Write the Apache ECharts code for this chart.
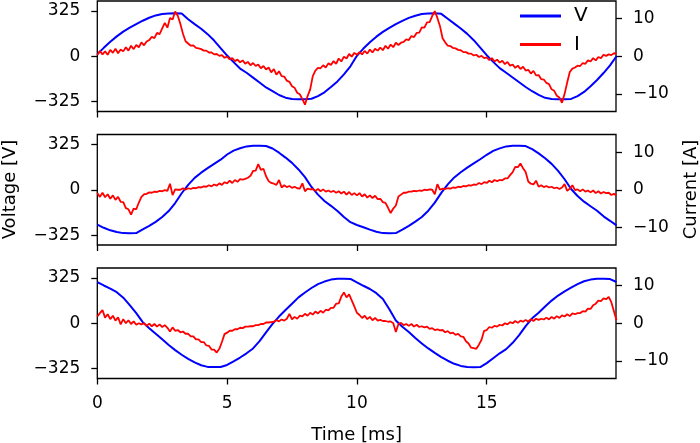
<!DOCTYPE html>
<html>
<head>
<meta charset="utf-8">
<script src="https://cdn.jsdelivr.net/npm/echarts@6/dist/echarts.min.js"></script>
<style>html,body{margin:0;padding:0;background:#fff}#c{width:700px;height:443px}</style>
</head>
<body>
<div id="c"></div>
<script>
// ---- data ----
const voltageStep = 0.25;   // ms between voltage samples
const currentStep = 0.1;    // ms between current samples
const xTicks = [0, 5, 10, 15];
const voltTicks = [-325, 0, 325];
const currTicks = [-10, 0, 10];

const voltage1 = [
  15, 60, 103, 142, 176, 204, 230, 254, 275, 292, 302, 306, 307, 305, 265, 230, 197, 158, 112, 58,
  5, -42, -88, -118, -153, -188, -223, -250, -277, -296, -305, -307, -307, -304, -285, -258, -220, -180, -130, -72,
  3, 55, 100, 140, 174, 203, 230, 253, 274, 290, 302, 306, 307, 303, 268, 233, 198, 160, 115, 62,
  8, -40, -85, -118, -152, -186, -220, -250, -276, -297, -306, -307, -307, -305, -285, -255, -215, -170, -120, -65,
  0
];
const voltage2 = [
  -250, -272, -290, -302, -310, -311, -310, -283, -258, -230, -195, -152, -95, -25, 35, 85, 122, 155, 185, 215,
  252, 280, 297, 310, 314, 314, 313, 295, 265, 230, 192, 145, 90, 20, -35, -80, -115, -152, -195, -232,
  -252, -268, -285, -300, -310, -311, -310, -285, -258, -228, -195, -150, -92, -22, 38, 88, 125, 158, 188, 218,
  250, 278, 296, 310, 314, 314, 312, 290, 260, 225, 185, 135, 75, 5, -45, -85, -118, -150, -190, -222,
  -255
];
const voltage3 = [
  294, 270, 248, 222, 183, 130, 72, 8, -35, -75, -115, -155, -192, -225, -255, -280, -300, -312, -313, -313,
  -298, -272, -245, -215, -180, -128, -65, -5, 48, 95, 140, 185, 220, 252, 280, 298, 312, 318, 318, 317,
  292, 268, 245, 215, 173, 100, 20, -25, -62, -105, -145, -180, -212, -242, -268, -290, -305, -313, -314, -313,
  -285, -250, -215, -185, -140, -85, -20, 35, 75, 120, 162, 198, 228, 255, 280, 300, 312, 318, 318, 316,
  295
];

const current1 = [
  0.3, 1.4, 0.5, 1.3, 0.4, 1.7, 0.9, 2.0, 0.8, 1.8,
  1.3, 2.4, 1.5, 2.8, 1.9, 3.0, 2.4, 3.7, 2.9, 3.9,
  4.3, 5.2, 4.8, 6.2, 5.9, 7.4, 8.9, 7.6, 10.2, 9.8,
  11.9, 10.8, 8.6, 6.0, 4.0, 3.4, 2.8, 2.9, 2.2, 2.1,
  1.9, 1.5, 1.5, 1.0, 1.0, 0.5, 0.6, 0.1, 0.3, -0.4,
  -0.1, -0.8, -0.5, -1.3, -0.9, -1.6, -1.1, -2.0, -1.5, -2.4,
  -1.8, -2.6, -2.2, -3.2, -2.6, -3.5, -3.0, -4.3, -3.4, -4.9,
  -4.0, -5.3, -5.4, -6.5, -6.8, -8.0, -8.4, -9.7, -10.1, -11.4,
  -12.9, -10.6, -8.8, -5.3, -3.8, -3.1, -3.2, -2.4, -3.0, -1.9,
  -2.3, -1.3, -2.0, -0.6, -1.4, -0.1, -0.6, 0.6, -0.1, 0.9,
  0.4, 1.1, 0.5, 1.4, 0.7, 1.8, 1.0, 2.0, 1.5, 2.3,
  1.6, 2.8, 2.0, 3.1, 2.4, 3.6, 3.0, 3.6, 3.8, 4.5,
  4.3, 5.4, 5.1, 6.2, 6.3, 7.7, 7.6, 9.0, 9.1, 10.7,
  12.0, 10.2, 8.0, 4.8, 3.7, 2.8, 2.7, 2.2, 2.1, 1.7,
  1.6, 1.1, 1.1, 0.7, 0.7, 0.2, 0.4, -0.2, 0.1, -0.5,
  -0.3, -1.0, -0.5, -1.4, -0.9, -1.7, -1.2, -2.1, -1.5, -2.5,
  -2.2, -3.1, -2.5, -3.4, -2.8, -3.8, -3.6, -4.6, -3.9, -5.1,
  -5.0, -6.1, -6.2, -7.1, -7.4, -8.8, -9.2, -10.5, -11.0, -12.4,
  -10.0, -7.0, -4.2, -3.3, -3.0, -2.5, -2.6, -1.8, -2.0, -1.1,
  -1.4, -0.5, -1.1, -0.2, -0.5, 0.4, 0.1, 0.5, 0.3, 0.8,
  0.7
];
const current2 = [
  -0.9, -1.9, -0.8, -2.0, -1.2, -2.4, -1.5, -2.7, -1.9, -3.2,
  -3.3, -4.9, -5.2, -6.6, -5.0, -5.2, -3.4, -1.9, -1.2, -1.1,
  -0.7, -0.8, -0.5, -0.6, -0.3, -0.4, -0.1, -0.3, 1.6, -1.4,
  0.1, 0.0, 0.0, 0.4, 0.0, 0.4, 0.2, 0.5, 0.4, 0.7,
  0.6, 0.9, 0.8, 1.2, 0.9, 1.4, 1.1, 1.7, 1.3, 2.0,
  1.7, 2.4, 1.8, 2.6, 2.1, 2.8, 2.7, 2.9, 3.2, 3.7,
  5.0, 5.1, 6.8, 5.3, 5.6, 3.6, 2.3, 1.8, 1.6, 1.3,
  2.6, 0.6, 1.2, 0.7, 1.0, 0.5, 0.8, 0.4, 0.3, 1.7,
  -0.4, 0.3, 0.1, 0.2, -0.3, 0.2, -0.4, 0.1, -0.5, -0.2,
  -0.6, -0.3, -0.8, -0.4, -1.0, -0.5, -1.3, -0.6, -1.4, -0.9,
  -1.5, -0.9, -1.8, -1.2, -2.1, -1.5, -2.2, -1.6, -2.5, -2.4,
  -3.3, -3.5, -4.8, -6.2, -5.0, -4.2, -1.8, -1.3, -0.8, -0.8,
  -0.5, -0.5, -0.3, -0.4, -0.2, -0.3, 0.0, -0.1, 0.1, 0.0,
  -1.2, 1.5, 0.0, 0.3, 0.2, 0.4, 0.3, 0.6, 0.5, 0.8,
  0.7, 1.0, 0.9, 1.2, 1.1, 1.4, 1.3, 1.8, 1.5, 2.0,
  1.8, 2.4, 2.0, 2.6, 2.3, 2.6, 2.5, 3.0, 3.0, 3.9,
  4.7, 6.1, 6.0, 7.0, 5.7, 4.7, 2.2, 1.6, 1.4, 2.4,
  0.8, 1.2, 0.7, 1.0, 0.6, 0.8, 0.4, 0.6, 0.2, 0.6,
  1.5, -0.3, 0.3, 1.2, -0.1, 0.1, -0.4, 0.1, -0.5, -0.2,
  -0.7, -0.2, -0.9, -0.4, -1.0, -0.6, -0.9, -0.8, -1.4, -1.1,
  -1.5
];
const current3 = [
  1.8, 2.7, 3.5, 1.5, 2.4, 1.1, 2.0, 0.7, 1.6, -0.3,
  1.1, 0.0, 0.8, -0.2, 0.5, -0.4, 0.0, -0.3, 0.0, -0.7,
  -0.1, -0.8, -0.2, -0.9, -0.3, -1.0, -0.5, -1.2, -2.2, -1.1,
  -2.0, -1.8, -2.4, -2.2, -2.8, -2.8, -3.5, -3.5, -4.3, -4.3,
  -5.0, -5.0, -5.9, -6.0, -7.0, -7.0, -7.8, -6.8, -5.0, -2.9,
  -2.5, -2.0, -2.0, -1.6, -1.6, -1.2, -1.3, -0.9, -0.9, -0.8,
  -0.8, -0.5, -0.5, -0.2, -0.2, 0.2, 0.2, 0.3, 0.4, 0.8,
  0.5, 1.0, 0.7, 1.2, 2.5, 1.0, 1.7, 1.2, 2.0, 1.8,
  2.5, 2.0, 2.8, 2.3, 3.1, 2.6, 3.3, 2.8, 3.6, 3.4,
  4.1, 4.1, 5.2, 5.3, 7.1, 8.2, 6.9, 7.7, 6.1, 4.5,
  2.8, 2.2, 1.4, 2.0, 1.1, 1.7, 0.8, 1.4, 0.7, 0.9,
  0.6, 0.6, 0.4, 0.5, 0.0, -2.3, -0.2, 0.1, -0.5, -0.2,
  -0.7, -0.2, -0.9, -0.4, -1.0, -0.8, -1.1, -0.9, -1.5, -1.3,
  -1.8, -1.6, -1.9, -1.8, -2.4, -2.1, -2.7, -2.5, -3.1, -2.8,
  -3.5, -3.6, -4.8, -5.4, -6.5, -6.6, -6.8, -5.7, -4.4, -2.0,
  -1.8, -1.0, -1.2, -0.7, -0.9, -0.4, -0.6, 0.0, -0.3, 0.3,
  0.0, 0.6, 0.1, 0.7, 0.4, 0.9, 0.4, 1.1, 0.6, 1.2,
  0.9, 1.2, 1.0, 1.5, 1.0, 1.7, 1.2, 1.9, 1.4, 2.1,
  1.8, 2.4, 1.9, 2.6, 2.4, 2.7, 2.7, 3.2, 3.1, 3.9,
  3.8, 4.8, 5.2, 6.0, 5.9, 6.6, 6.4, 7.0, 5.6, 3.2,
  0.8
];

// ---- chart ----
const FONT = 'DejaVu Sans';
const minus = v => (v < 0 ? '\u2212' + (-v) : String(v));
const toPairs = (arr, step) => arr.map((v, i) => [Math.round(i * step * 100) / 100, v]);
const voltages = [voltage1, voltage2, voltage3];
const currents = [current1, current2, current3];
const tops = [1, 134.5, 268];

const grid = tops.map(t => ({
  left: 97.3, width: 518.7, top: t, height: 110.5,
  containLabel: false, outerBoundsMode: 'none',
  show: true, borderColor: '#000', borderWidth: 1.3, backgroundColor: 'transparent'
}));

const tickStyle = { color: '#000', width: 1.3 };
const labelStyle = { fontSize: 17, color: '#000', fontFamily: FONT, margin: 17 };
const nameStyle = { fontSize: 18, color: '#000', fontFamily: FONT };

const xAxis = tops.map((t, i) => ({
  type: 'value', gridIndex: i, min: 0, max: 19.98,
  axisLine: { show: false, onZero: false },
  axisTick: { show: true, length: 6, customValues: xTicks, lineStyle: tickStyle },
  axisLabel: Object.assign({ show: i === 2, customValues: xTicks }, labelStyle),
  splitLine: { show: false },
  name: i === 2 ? 'Time [ms]' : '',
  nameLocation: 'middle', nameGap: 48,
  nameTextStyle: nameStyle
}));

const yAxis = [];
tops.forEach((t, i) => {
  yAxis.push({
    type: 'value', gridIndex: i, position: 'left', min: -395, max: 395,
    axisLine: { show: false, onZero: false },
    axisTick: { show: true, length: 6, customValues: voltTicks, lineStyle: tickStyle },
    axisLabel: Object.assign({ customValues: voltTicks, formatter: minus }, labelStyle),
    splitLine: { show: false }
  });
  yAxis.push({
    type: 'value', gridIndex: i, position: 'right', min: -14.7, max: 14.7,
    axisLine: { show: false, onZero: false },
    axisTick: { show: true, length: 6, customValues: currTicks, lineStyle: tickStyle },
    axisLabel: Object.assign({ customValues: currTicks, formatter: minus }, labelStyle),
    splitLine: { show: false }
  });
});

const series = [];
tops.forEach((t, i) => {
  series.push({
    name: 'V', type: 'line', xAxisIndex: i, yAxisIndex: 2 * i,
    data: toPairs(voltages[i], voltageStep), symbol: 'none', smooth: false,
    lineStyle: { color: '#0000ff', width: 2 }, itemStyle: { color: '#0000ff' }, z: 2
  });
  series.push({
    name: 'I', type: 'line', xAxisIndex: i, yAxisIndex: 2 * i + 1,
    data: toPairs(currents[i], currentStep), symbol: 'none', smooth: false,
    lineStyle: { color: '#ff0000', width: 1.8 }, itemStyle: { color: '#ff0000' }, z: 3
  });
});

const chart = echarts.init(document.getElementById('c'), null, { renderer: 'canvas' });
chart.setOption({
  animation: false,
  backgroundColor: '#fff',
  grid, xAxis, yAxis, series,
  legend: {
    data: ['V', 'I'], orient: 'vertical', left: 520, top: 6, padding: 0,
    icon: 'rect', itemWidth: 41, itemHeight: 3, itemGap: 8.5,
    textStyle: { fontSize: 20, color: '#000', fontFamily: FONT, padding: [0, 0, 0, 8] }
  },
  graphic: [
    {
      type: 'text', x: 10, y: 189.5, rotation: Math.PI / 2,
      style: { text: 'Voltage [V]', font: '18px "DejaVu Sans"', fill: '#000', align: 'center', verticalAlign: 'middle' }
    },
    {
      type: 'text', x: 691, y: 189.5, rotation: Math.PI / 2,
      style: { text: 'Current [A]', font: '18px "DejaVu Sans"', fill: '#000', align: 'center', verticalAlign: 'middle' }
    }
  ]
});
</script>
</body>
</html>
